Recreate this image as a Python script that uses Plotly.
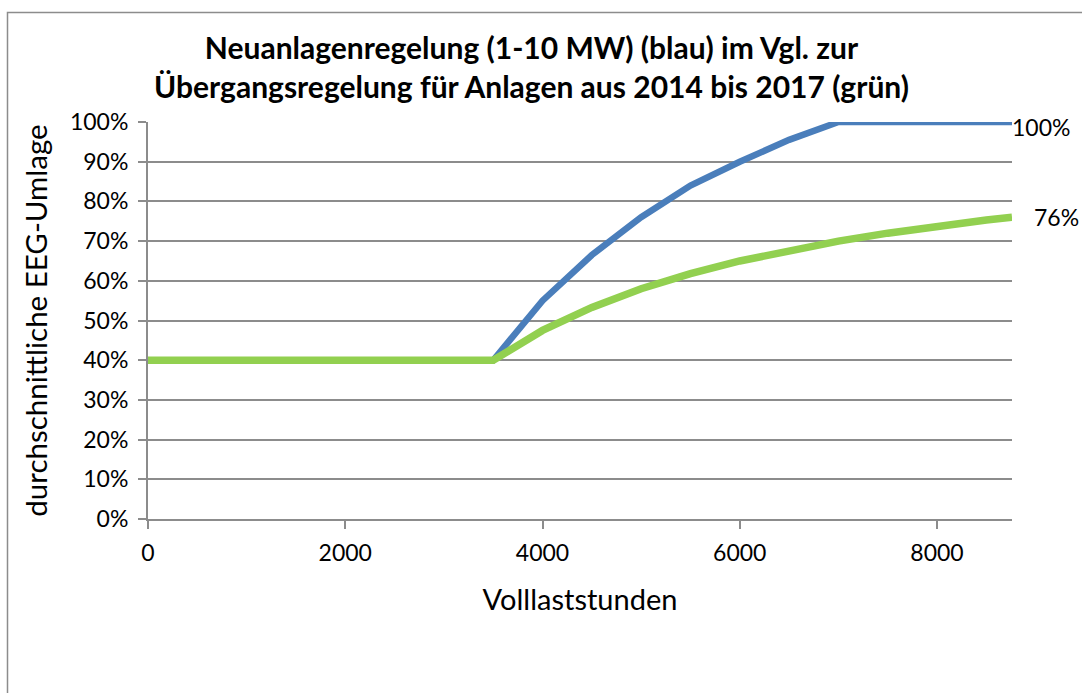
import plotly.graph_objects as go

hours = [0, 500, 1000, 1500, 2000, 2500, 3000, 3500, 4000, 4500, 5000, 5500,
         6000, 6500, 7000, 7500, 8000, 8500, 8760]
blue = [0.40, 0.40, 0.40, 0.40, 0.40, 0.40, 0.40, 0.40, 0.55, 0.665, 0.76, 0.84,
        0.90, 0.955, 1.00, 1.00, 1.00, 1.00, 1.00]
green = [0.40, 0.40, 0.40, 0.40, 0.40, 0.40, 0.40, 0.40, 0.475, 0.533, 0.58, 0.618,
         0.65, 0.677, 0.70, 0.72, 0.738, 0.753, 0.76]
x_ticks = [0, 2000, 4000, 6000, 8000]
y_ticks = [i / 10 for i in range(11)]
y_tick_labels = [f"{i * 10}%" for i in range(11)]
end_labels = ["100%", "76%"]

FONT = "Lato"
W, H = 1082, 693
L, R, T, B = 148, 1012, 122, 519  # plot area in screen pixels
PW, PH = R - L, B - T


def px(xs):
    return (xs - L) / PW


def py(ys):
    return (B - ys) / PH


fig = go.Figure()
fig.add_trace(go.Scatter(x=hours, y=blue, mode="lines",
                         line=dict(color="#4A7EBB", width=6.5), cliponaxis=False,
                         hoverinfo="skip", showlegend=False))
fig.add_trace(go.Scatter(x=hours, y=green, mode="lines",
                         line=dict(color="#92D050", width=7.5), cliponaxis=False,
                         hoverinfo="skip", showlegend=False))

fig.add_annotation(x=hours[-1], y=blue[-1], text=end_labels[0], showarrow=False,
                   xanchor="left", yanchor="middle", xshift=-2, yshift=-5,
                   font=dict(family=FONT, size=23, color="#000"))
fig.add_annotation(x=hours[-1], y=green[-1], text=end_labels[1], showarrow=False,
                   xanchor="left", yanchor="middle", xshift=20, yshift=0,
                   font=dict(family=FONT, size=23, color="#000"))

fig.add_annotation(xref="paper", yref="paper", x=px(531),
                   y=py(66), xanchor="center", yanchor="middle",
                   text="<b>Neuanlagenregelung (1-10 MW) (blau) im Vgl. zur<br>Übergangsregelung für Anlagen aus 2014 bis 2017 (grün)</b>",
                   showarrow=False, align="center",
                   font=dict(family=FONT, size=30, color="#000"))

# chart area frame (partly cut off at the right and bottom)
fig.add_shape(type="rect", xref="paper", yref="paper",
              x0=px(7.5), x1=px(1110), y0=py(720), y1=py(12.5),
              line=dict(color="#8c8c8c", width=1.5), layer="below")

fig.update_layout(
    width=W, height=H,
    margin=dict(l=L, r=W - R, t=T, b=H - B),
    paper_bgcolor="white", plot_bgcolor="white",
    font=dict(family=FONT, color="#000"),
    xaxis=dict(range=[0, 8760], tickvals=x_ticks, ticktext=[str(v) for v in x_ticks],
               showgrid=False, zeroline=False, showline=True, linecolor="#8c8c8c",
               linewidth=2, ticks="outside", ticklen=8, tickcolor="#8c8c8c",
               tickwidth=1.5, tickfont=dict(family=FONT, size=23),
               ticklabelstandoff=4,
               title=dict(text="Volllaststunden", font=dict(family=FONT, size=29),
                          standoff=25)),
    yaxis=dict(range=[0, 1], tickvals=y_ticks, ticktext=y_tick_labels,
               showgrid=True, gridcolor="#8c8c8c", gridwidth=1.5, zeroline=False,
               showline=True, linecolor="#8c8c8c", linewidth=2, ticks="outside",
               ticklen=8, tickcolor="#8c8c8c", tickwidth=1.5,
               tickfont=dict(family=FONT, size=23), ticklabelstandoff=5,
               title=dict(text="durchschnittliche EEG-Umlage",
                          font=dict(family=FONT, size=29.5), standoff=14)),
)

fig.write_html("out.html", config={"displayModeBar": False},
               post_script="document.body.style.margin='0';document.body.style.overflow='hidden';")
